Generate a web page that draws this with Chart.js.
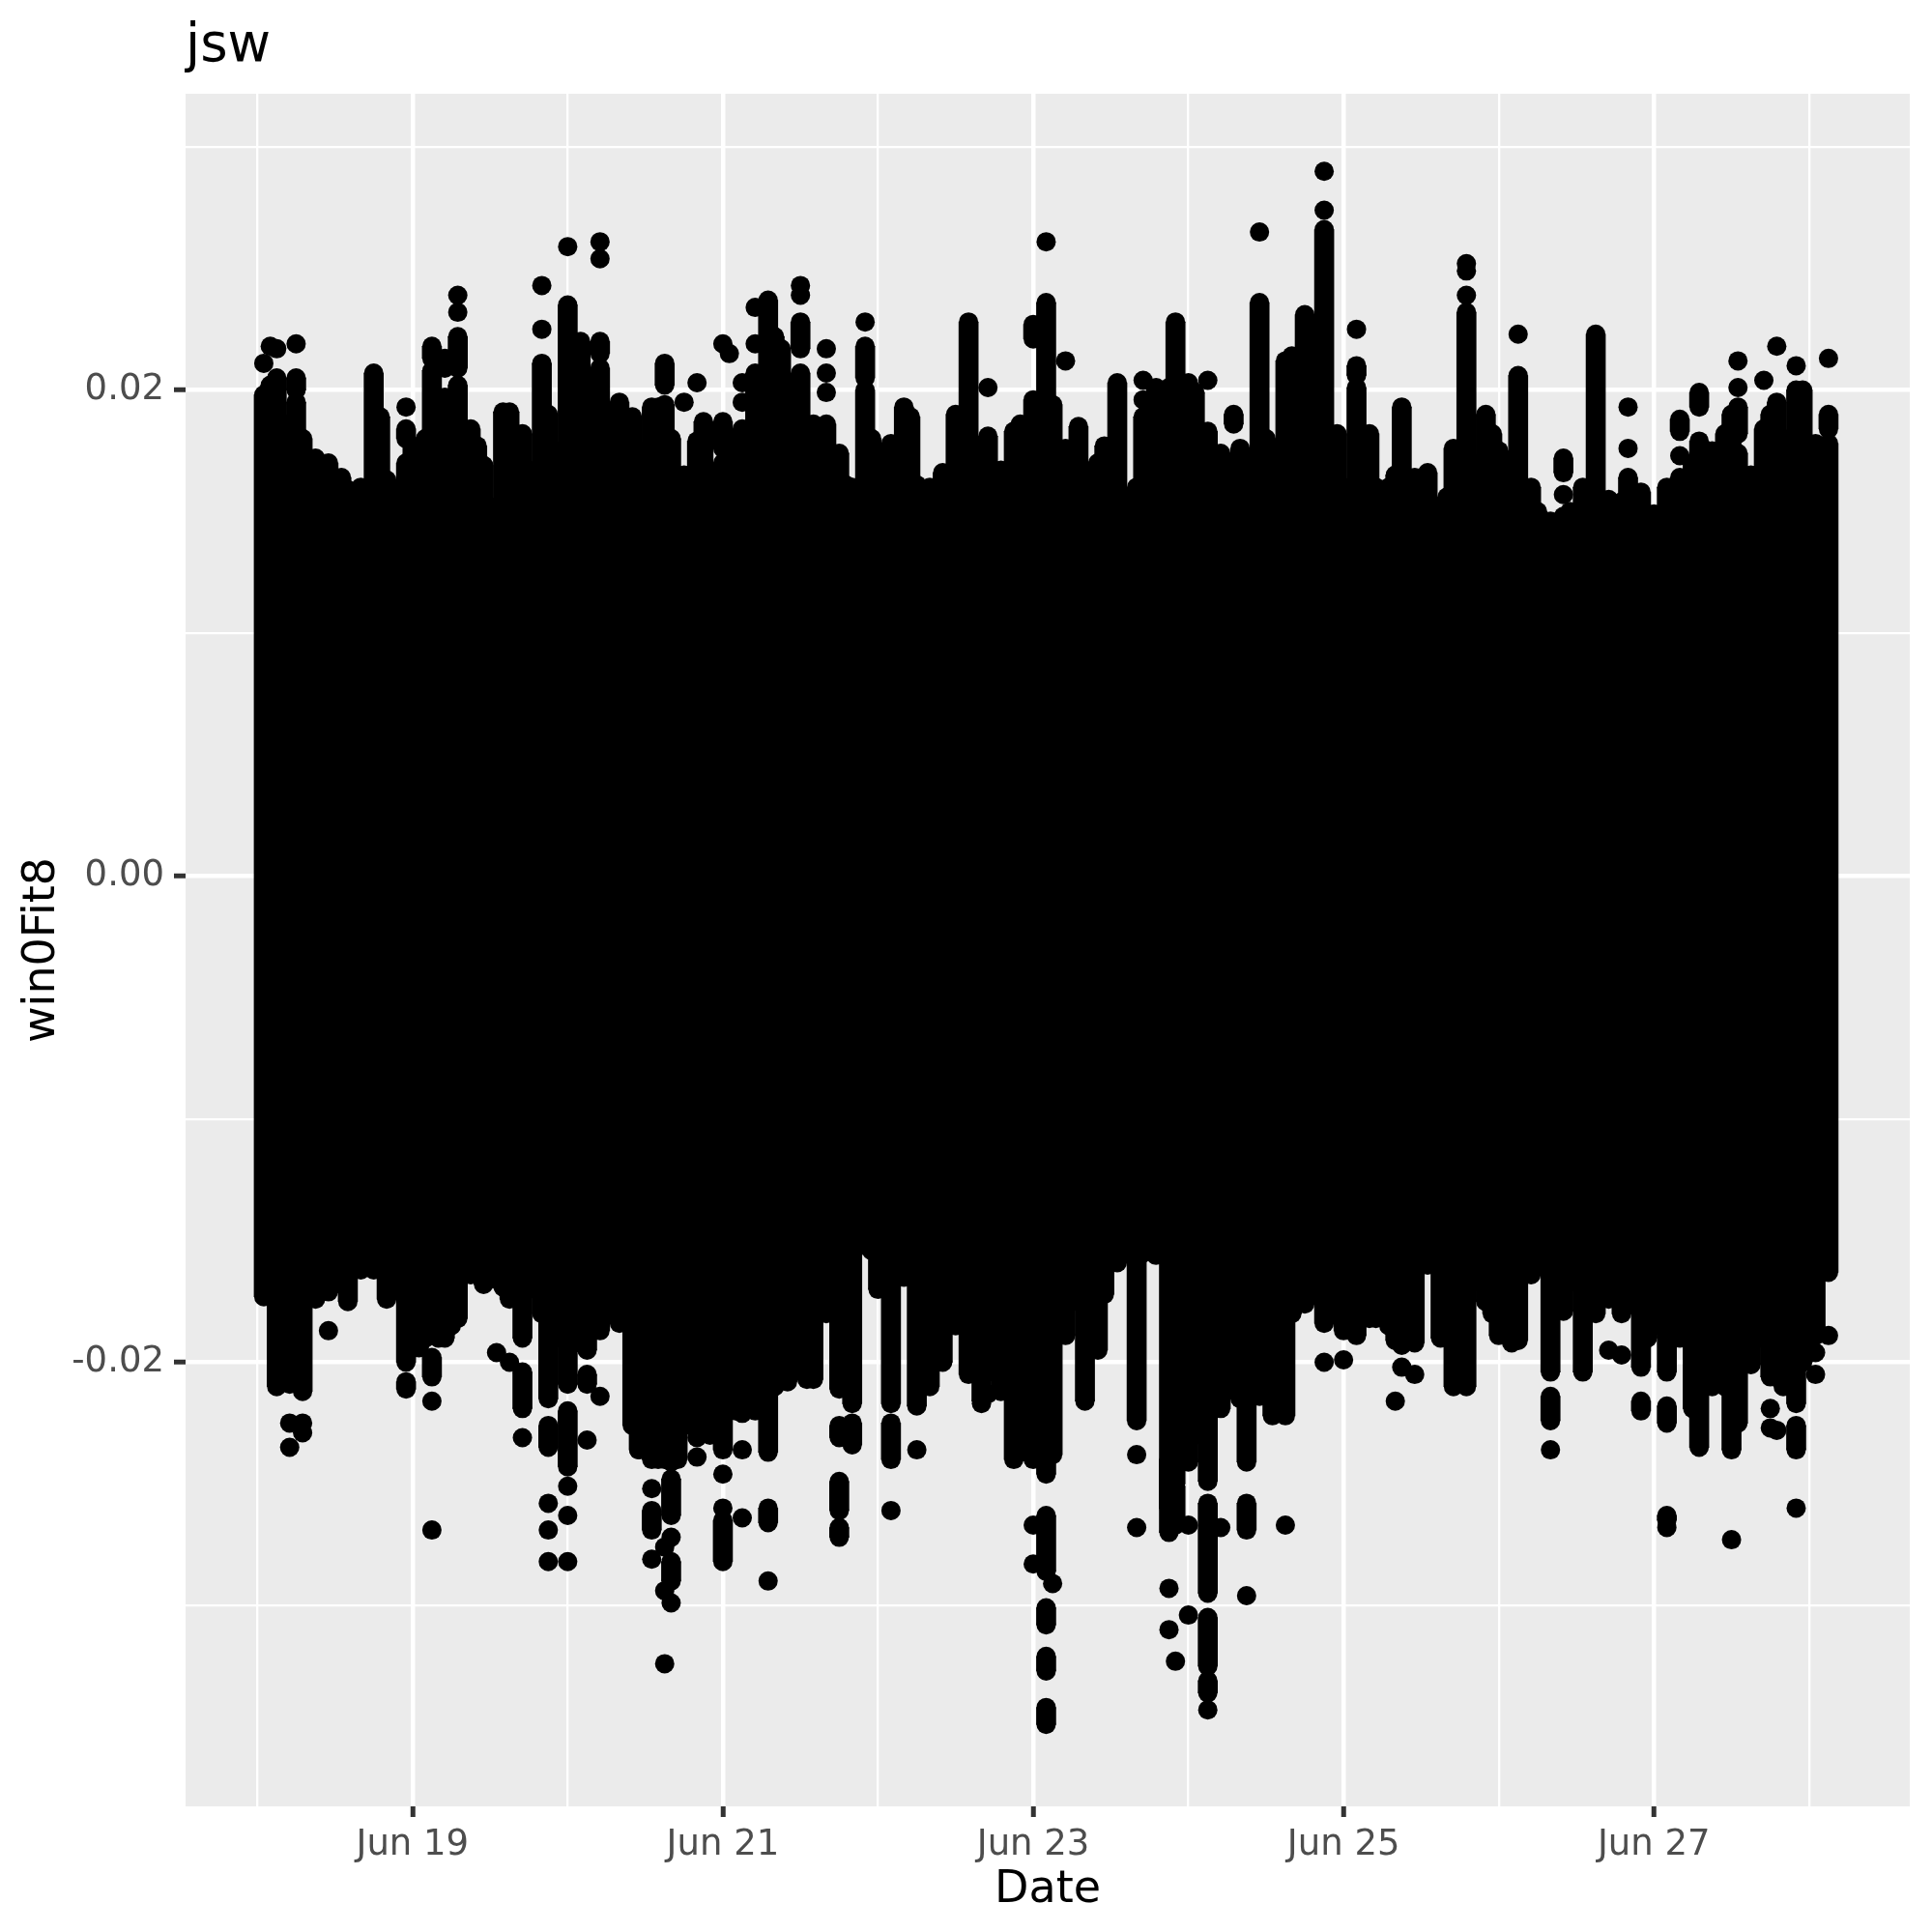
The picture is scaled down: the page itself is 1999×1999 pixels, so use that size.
<!DOCTYPE html>
<html>
<head>
<meta charset="utf-8">
<title>jsw</title>
<script src="https://cdn.jsdelivr.net/npm/chart.js@4"></script>
<style>
  html, body { margin: 0; padding: 0; background: #fff; }
  canvas { display: block; }
</style>
</head>
<body>
<canvas id="fitChart" width="1999" height="1999"></canvas>
<script>
// x values are hours since Jun 18 00:00, one stack of points per hour
const dateTickHours = [24, 72, 120, 168, 216];
const dateTickLabels = ["Jun 19", "Jun 21", "Jun 23", "Jun 25", "Jun 27"];
const minorDateHours = [0, 48, 96, 144, 192, 240];
const fitTicks = [-0.02, 0, 0.02];
const fitTickLabels = ["-0.02", "0.00", "0.02"];
const minorFitTicks = [-0.03, -0.01, 0.01, 0.03];

// solid stacks: highest and lowest point of each hour
const columnHours = [1,2,3,4,5,6,7,9,11,12,13,14,16,18,19,20,21,23,24,25,26,27,28,29,30,31,33,34,35,37,38,39,41,42,43,44,45,46,48,49,50,51,52,53,55,56,58,59,60,61,62,63,64,65,66,67,68,69,70,72,74,75,77,79,80,81,82,83,84,85,86,88,90,91,92,94,95,96,98,100,101,102,104,106,108,110,112,113,115,117,118,120,122,123,125,127,128,130,131,133,134,136,137,139,141,142,144,145,147,149,151,152,153,155,156,157,159,160,162,164,165,167,168,170,172,173,175,176,177,179,181,183,184,185,187,188,190,191,192,194,195,197,198,200,202,203,205,207,209,211,212,214,215,216,218,220,222,223,225,227,228,229,231,233,234,235,236,238,239,241,243];
const columnHighs = [0.0198,0.0202,0.0205,0.0186,0.0186,0.0195,0.018,0.0172,0.017,0.0158,0.0164,0.0159,0.016,0.0207,0.0189,0.0163,0.0157,0.017,0.0177,0.0172,0.018,0.0208,0.0195,0.0197,0.019,0.0202,0.0184,0.0177,0.0169,0.0152,0.0191,0.0191,0.0182,0.0167,0.0159,0.0211,0.019,0.0175,0.0235,0.022,0.022,0.018,0.0167,0.0209,0.0162,0.0195,0.0189,0.0175,0.017,0.0193,0.0193,0.0194,0.018,0.0155,0.0165,0.0165,0.0179,0.0187,0.0155,0.017,0.018,0.0184,0.0207,0.0237,0.0222,0.0217,0.019,0.0184,0.0207,0.018,0.0186,0.0186,0.0174,0.0161,0.016,0.02,0.018,0.0172,0.0178,0.0193,0.0189,0.0161,0.016,0.0166,0.019,0.0228,0.017,0.0181,0.0167,0.0183,0.0186,0.0196,0.0236,0.0194,0.0176,0.0185,0.0167,0.017,0.0177,0.0203,0.0155,0.016,0.0189,0.0201,0.0201,0.0228,0.0203,0.0199,0.0183,0.0174,0.0161,0.0176,0.0155,0.0236,0.018,0.016,0.0212,0.0214,0.0231,0.0155,0.0266,0.0182,0.016,0.0201,0.0182,0.016,0.016,0.0165,0.0193,0.0164,0.0166,0.015,0.0156,0.0176,0.0232,0.017,0.019,0.0182,0.0175,0.016,0.0206,0.016,0.015,0.0146,0.0148,0.015,0.016,0.0223,0.0155,0.0154,0.0164,0.0158,0.0142,0.0149,0.016,0.0164,0.017,0.0179,0.0175,0.0182,0.019,0.0174,0.0165,0.0184,0.019,0.0195,0.018,0.02,0.02,0.0178,0.0178];
const columnLows = [-0.0173,-0.0173,-0.021,-0.018,-0.0209,-0.0199,-0.0212,-0.0174,-0.0171,-0.0164,-0.0168,-0.0175,-0.0162,-0.0162,-0.0159,-0.0174,-0.0163,-0.02,-0.0178,-0.0194,-0.019,-0.0185,-0.019,-0.019,-0.0185,-0.0182,-0.0164,-0.0158,-0.0168,-0.0166,-0.0169,-0.0174,-0.019,-0.0165,-0.017,-0.018,-0.0215,-0.019,-0.0209,-0.019,-0.0192,-0.0195,-0.018,-0.0187,-0.0179,-0.0184,-0.0226,-0.0236,-0.023,-0.024,-0.024,-0.024,-0.0241,-0.024,-0.0225,-0.0226,-0.0227,-0.0215,-0.023,-0.0236,-0.022,-0.0221,-0.022,-0.0237,-0.021,-0.02,-0.0208,-0.02,-0.0195,-0.0207,-0.0207,-0.018,-0.0211,-0.021,-0.0217,-0.0152,-0.0154,-0.017,-0.0217,-0.0165,-0.0165,-0.0218,-0.021,-0.02,-0.0185,-0.0205,-0.0216,-0.0204,-0.0212,-0.024,-0.0237,-0.024,-0.0246,-0.0238,-0.0189,-0.0175,-0.0216,-0.0195,-0.0172,-0.0159,-0.0155,-0.0224,-0.0155,-0.0156,-0.026,-0.025,-0.0241,-0.023,-0.0249,-0.0219,-0.021,-0.0215,-0.0241,-0.0214,-0.021,-0.0222,-0.0222,-0.018,-0.0176,-0.016,-0.0184,-0.017,-0.0187,-0.0189,-0.0182,-0.0182,-0.0185,-0.0191,-0.0193,-0.0192,-0.016,-0.019,-0.0189,-0.021,-0.021,-0.0167,-0.0175,-0.018,-0.0189,-0.0192,-0.0191,-0.0164,-0.016,-0.0204,-0.0179,-0.0167,-0.0204,-0.018,-0.0174,-0.018,-0.0175,-0.0202,-0.019,-0.0185,-0.0204,-0.019,-0.0219,-0.0235,-0.021,-0.021,-0.0236,-0.0225,-0.0201,-0.019,-0.0206,-0.019,-0.021,-0.0217,-0.02,-0.0189,-0.0163];

// short runs of stacked points that stand apart from the solid stacks
const runHours = [6,23,27,29,31,53,63,72,84,94,120,151,170,202,220,223,229,243,23,27,41,45,48,51,61,64,64,72,79,90,90,90,92,98,122,122,122,122,141,142,147,147,147,153,200,214,218,218,238];
const runHighs = [0.0205,0.0184,0.0218,0.0213,0.0222,0.022,0.0211,0.0187,0.0228,0.0218,0.0227,0.019,0.021,0.0172,0.0188,0.0199,0.0193,0.019,-0.0208,-0.0198,-0.0204,-0.0226,-0.022,-0.0205,-0.0261,-0.0248,-0.0282,-0.0265,-0.026,-0.0226,-0.0249,-0.0268,-0.0225,-0.0225,-0.0263,-0.0301,-0.0321,-0.0342,-0.024,-0.0251,-0.0258,-0.0305,-0.0331,-0.0258,-0.0214,-0.0216,-0.0218,-0.0263,-0.0226];
const runLows = [0.02,0.018,0.0213,0.0209,0.0209,0.0215,0.0202,0.0176,0.0217,0.0205,0.0221,0.0186,0.0206,0.0166,0.0183,0.0193,0.0182,0.0184,-0.0211,-0.0206,-0.0219,-0.0235,-0.0243,-0.0209,-0.0269,-0.0263,-0.029,-0.0282,-0.0266,-0.0231,-0.0261,-0.0272,-0.0234,-0.024,-0.0286,-0.0308,-0.0327,-0.0349,-0.027,-0.0267,-0.0295,-0.0325,-0.0336,-0.0269,-0.0224,-0.022,-0.0225,-0.0265,-0.0236];

// single points
const dotHours = [1,2,3,6,23,31,31,44,44,48,53,53,66,68,72,73,75,75,77,77,84,84,88,88,88,94,113,122,125,137,137,147,155,165,165,170,187,187,187,195,202,212,212,220,229,229,233,235,238,243,5,5,7,7,11,23,27,27,37,39,41,45,45,45,48,48,48,51,53,59,61,61,63,63,63,64,64,68,68,72,72,75,75,79,84,98,102,112,113,120,120,123,136,136,141,141,142,144,144,147,149,153,159,165,168,176,177,179,200,209,211,218,228,234,234,235,238,241,241,243];
const dotValues = [0.0211,0.0218,0.0217,0.0219,0.0193,0.0239,0.0232,0.0243,0.0225,0.0259,0.0261,0.0254,0.0195,0.0203,0.0219,0.0215,0.0203,0.0195,0.0234,0.0219,0.0243,0.0239,0.0217,0.0207,0.0199,0.0228,0.0201,0.0261,0.0212,0.0204,0.0196,0.0204,0.0265,0.029,0.0274,0.0225,0.0252,0.0249,0.0239,0.0223,0.0157,0.0193,0.0176,0.0173,0.0212,0.0201,0.0204,0.0218,0.021,0.0213,-0.0235,-0.0225,-0.0225,-0.0229,-0.0187,-0.0198,-0.0216,-0.0269,-0.0196,-0.02,-0.0231,-0.0258,-0.0269,-0.0282,-0.0251,-0.0263,-0.0282,-0.0232,-0.0214,-0.0236,-0.0252,-0.0281,-0.0276,-0.0294,-0.0324,-0.0272,-0.0299,-0.0231,-0.0239,-0.0246,-0.026,-0.0236,-0.0264,-0.029,-0.02,-0.0261,-0.0236,-0.0217,-0.0213,-0.0267,-0.0283,-0.0291,-0.0238,-0.0268,-0.0293,-0.031,-0.0323,-0.0267,-0.0304,-0.0343,-0.0268,-0.0296,-0.0267,-0.02,-0.0199,-0.0216,-0.0202,-0.0205,-0.0236,-0.0195,-0.0197,-0.0268,-0.0273,-0.0219,-0.0227,-0.0228,-0.026,-0.0196,-0.0205,-0.0189];

const stackBars = [];
const stackPoints = [];
columnHours.forEach((h, i) => {
  stackBars.push({ x: h, y: [columnLows[i], columnHighs[i]] });
  stackPoints.push({ x: h, y: columnHighs[i] }, { x: h, y: columnLows[i] });
});
runHours.forEach((h, i) => {
  stackBars.push({ x: h, y: [runLows[i], runHighs[i]] });
  stackPoints.push({ x: h, y: runHighs[i] }, { x: h, y: runLows[i] });
});
dotHours.forEach((h, i) => stackPoints.push({ x: h, y: dotValues[i] }));

const isMajor = (list, v) => list.some(t => Math.abs(t - v) < 1e-9);
const gridWidth = list => ctx => (ctx.tick && isMajor(list, ctx.tick.value) ? 4.5 : 2.3);
const tickColor = list => ctx => (ctx.tick && isMajor(list, ctx.tick.value) ? "#333333" : "rgba(0,0,0,0)");

// ggplot style grey panel behind the grid
const panelBackground = {
  id: "panelBackground",
  beforeDraw(chart) {
    const a = chart.chartArea;
    chart.ctx.save();
    chart.ctx.fillStyle = "#EBEBEB";
    chart.ctx.fillRect(a.left, a.top, a.right - a.left, a.bottom - a.top);
    chart.ctx.restore();
  }
};

new Chart(document.getElementById("fitChart").getContext("2d"), {
  type: "bar",
  data: {
    datasets: [
      {
        type: "bar",
        data: stackBars,
        backgroundColor: "#000000",
        barThickness: 20,
        grouped: false,
        borderWidth: 0
      },
      {
        type: "line",
        data: stackPoints,
        showLine: false,
        pointRadius: 10,
        pointBackgroundColor: "#000000",
        pointBorderWidth: 0
      }
    ]
  },
  plugins: [panelBackground],
  options: {
    responsive: false,
    animation: false,
    devicePixelRatio: 1,
    layout: { padding: { right: 23 } },
    font: { family: "'DejaVu Sans'" },
    plugins: {
      legend: { display: false },
      tooltip: { enabled: false },
      title: {
        display: true,
        text: "jsw",
        align: "start",
        fullSize: false,
        color: "#000000",
        font: { family: "'DejaVu Sans'", size: 54.5, weight: "normal" },
        padding: { top: 16.5, bottom: 15.1 }
      }
    },
    scales: {
      x: {
        type: "linear",
        offset: false,
        min: -11.1,
        max: 255.57,
        afterBuildTicks(scale) {
          scale.ticks = minorDateHours.concat(dateTickHours).sort((a, b) => a - b).map(value => ({ value }));
        },
        afterFit(scale) { scale.height = 130; },
        border: { display: false },
        grid: {
          offset: false,
          color: "#FFFFFF",
          lineWidth: gridWidth(dateTickHours),
          tickLength: 11,
          tickColor: tickColor(dateTickHours),
          tickWidth: 5
        },
        ticks: {
          autoSkip: false,
          maxRotation: 0,
          padding: 7,
          color: "#4D4D4D",
          font: { family: "'DejaVu Sans'", size: 37 },
          callback(value) {
            const i = dateTickHours.indexOf(value);
            return i >= 0 ? dateTickLabels[i] : "";
          }
        },
        title: {
          display: true,
          text: "Date",
          color: "#000000",
          font: { family: "'DejaVu Sans'", size: 46 },
          padding: { top: 0, bottom: 15 }
        }
      },
      y: {
        type: "linear",
        min: -0.03827,
        max: 0.03219,
        afterBuildTicks(scale) {
          scale.ticks = minorFitTicks.concat(fitTicks).sort((a, b) => a - b).map(value => ({ value }));
        },
        afterFit(scale) { scale.width = 192; },
        border: { display: false },
        grid: {
          color: "#FFFFFF",
          lineWidth: gridWidth(fitTicks),
          tickLength: 12,
          tickColor: tickColor(fitTicks),
          tickWidth: 5
        },
        ticks: {
          autoSkip: false,
          padding: 10,
          color: "#4D4D4D",
          font: { family: "'DejaVu Sans'", size: 37 },
          callback(value) {
            const i = fitTicks.findIndex(t => Math.abs(t - value) < 1e-9);
            return i >= 0 ? fitTickLabels[i] : "";
          }
        },
        title: {
          display: true,
          text: "win0Fit8",
          color: "#000000",
          font: { family: "'DejaVu Sans'", size: 46 },
          padding: { top: 16, bottom: 0 }
        }
      }
    }
  }
});
</script>
</body>
</html>
